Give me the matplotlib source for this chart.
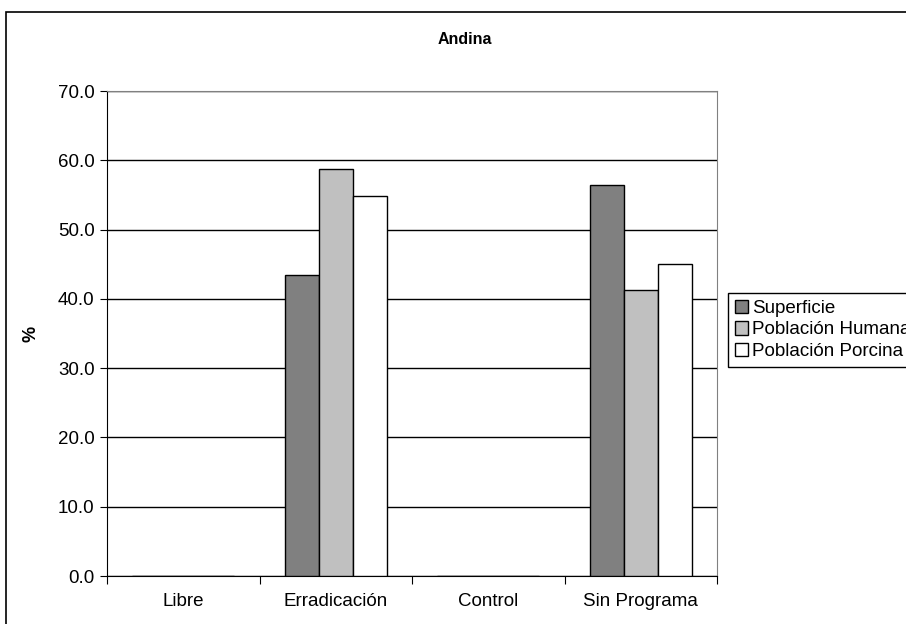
import matplotlib.pyplot as plt
import numpy as np
from matplotlib.patches import Rectangle

plt.rcParams['font.family'] = ['Liberation Sans', 'DejaVu Sans']

categorias = ['Libre', 'Erradicación', 'Control', 'Sin Programa']
series = ['Superficie', 'Población Humana', 'Población Porcina']
superficie = [0.0, 43.5, 0.0, 56.5]
humana = [0.0, 58.7, 0.0, 41.3]
porcina = [0.0, 54.9, 0.0, 45.1]
colores = ['#808080', '#C0C0C0', '#FFFFFF']

fig = plt.figure(figsize=(9.06, 6.24), dpi=100)
ax = fig.add_axes([0.1181, 0.0769, 0.6733, 0.7772])

# borde del area del grafico
fig.patches.append(Rectangle((6/906, -0.1), 1.2, 1 - 12/624 + 0.1,
                             transform=fig.transFigure, fill=False,
                             edgecolor='black', linewidth=1.2))

x = np.arange(len(categorias))
w = 1 / 4.5
for i, (vals, nombre) in enumerate(zip([superficie, humana, porcina], series)):
    ax.bar(x + (i - 1) * w, vals, width=w, color=colores[i],
           edgecolor='black', linewidth=1, label=nombre, zorder=3)

ax.set_xlim(-0.5, len(categorias) - 0.5)
ax.set_ylim(0, 70)
ax.set_yticks(np.arange(0, 71, 10))
ax.set_yticklabels([f'{v:.1f}' for v in np.arange(0, 71, 10)], fontsize=13.5)
ax.yaxis.grid(True, color='black', linewidth=1)
ax.set_axisbelow(True)

ax.set_xticks(np.arange(-0.5, len(categorias), 1))
ax.set_xticklabels([])
ax.set_xticks(x, minor=True)
ax.set_xticklabels(categorias, minor=True, fontsize=13.5)
ax.tick_params(axis='x', which='minor', length=0, pad=12)
ax.tick_params(axis='x', which='major', length=6, direction='out')
ax.tick_params(axis='y', length=5, direction='out', pad=4)

for s in ['top', 'right']:
    ax.spines[s].set_color('#808080')
ax.spines['left'].set_color('black')
ax.spines['bottom'].set_color('black')

ax.set_ylabel('%', fontsize=13, fontweight='bold')
ax.yaxis.set_label_coords(-0.11, 0.5)
fig.text(465/906, 1 - 40/624, 'Andina', ha='center', va='center',
         fontsize=11.5, fontweight='bold')

fig.legend(loc='upper left', bbox_to_anchor=(728/906, 1 - 293/624),
           fontsize=13.5, frameon=True, fancybox=False, edgecolor='black',
           framealpha=1, handlelength=0.7, handleheight=0.7,
           handletextpad=0.25, borderpad=0.35, labelspacing=0.25,
           borderaxespad=0)

fig.savefig('out.png', dpi=100)
